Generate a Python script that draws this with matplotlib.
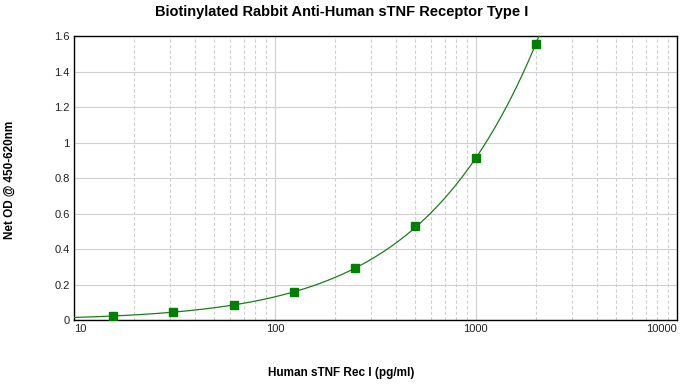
import numpy as np
import matplotlib.pyplot as plt
from matplotlib.ticker import LogLocator, FixedLocator, NullFormatter

# standard curve data
conc = [15.6, 31.25, 62.5, 125, 250, 500, 1000, 2000]
od = [0.023, 0.045, 0.085, 0.158, 0.293, 0.53, 0.913, 1.555]

# smooth fitted line (quadratic in log-log space, fit to the points)
coef = np.polyfit(np.log10(conc), np.log10(od), 2)
xs = np.logspace(1, np.log10(2300), 300)
ys = 10 ** np.polyval(coef, np.log10(xs))

plt.rcParams['font.family'] = ['Liberation Sans', 'DejaVu Sans']

fig = plt.figure(figsize=(6.9, 3.88), dpi=100)
ax = fig.add_axes([0.107, 0.175, 0.874, 0.732])

ax.plot(xs, ys, color='#1a7f1a', lw=0.9, zorder=3)
ax.plot(conc, od, 's', color='#008000', markersize=6, zorder=4)

ax.set_xscale('log')
ax.set_xlim(10, 10000)
ax.set_ylim(0, 1.6)
ax.xaxis.set_major_locator(FixedLocator([10, 100, 1000, 10000]))
ax.xaxis.set_minor_locator(LogLocator(base=10, subs=np.arange(2, 10)))
ax.xaxis.set_minor_formatter(NullFormatter())
ax.set_xticklabels(['10', '100', '1000', '10000'])
ax.set_yticks([0, 0.2, 0.4, 0.6, 0.8, 1.0, 1.2, 1.4, 1.6])
ax.set_yticklabels(['0', '0.2', '0.4', '0.6', '0.8', '1', '1.2', '1.4', '1.6'])

ax.grid(which='major', color='#d0d0d0', lw=0.8, ls='-')
ax.grid(which='minor', axis='x', color='#d0d0d0', lw=0.8, ls=(0, (3, 2)))
ax.set_axisbelow(True)
ax.tick_params(which='both', length=0, labelsize=8, pad=3, labelcolor='#222222')
# keep the end x labels inside the figure
ax.get_xticklabels()[-1].set_horizontalalignment('right')
ax.get_xticklabels()[0].set_horizontalalignment('left')

for s in ax.spines.values():
    s.set_color('black')
    s.set_linewidth(1.0)

fig.text(342 / 690, 1 - 12 / 388, 'Biotinylated Rabbit Anti-Human sTNF Receptor Type I',
         fontsize=10.5, fontweight='bold', ha='center', va='center')
fig.text(341 / 690, 1 - 373 / 388, 'Human sTNF Rec I (pg/ml)',
         fontsize=8.5, fontweight='bold', ha='center', va='center')
fig.text(10 / 690, 1 - 180 / 388, 'Net OD @ 450-620nm',
         fontsize=8.5, fontweight='bold', ha='center', va='center', rotation=90)

fig.savefig('out.png', dpi=100)
